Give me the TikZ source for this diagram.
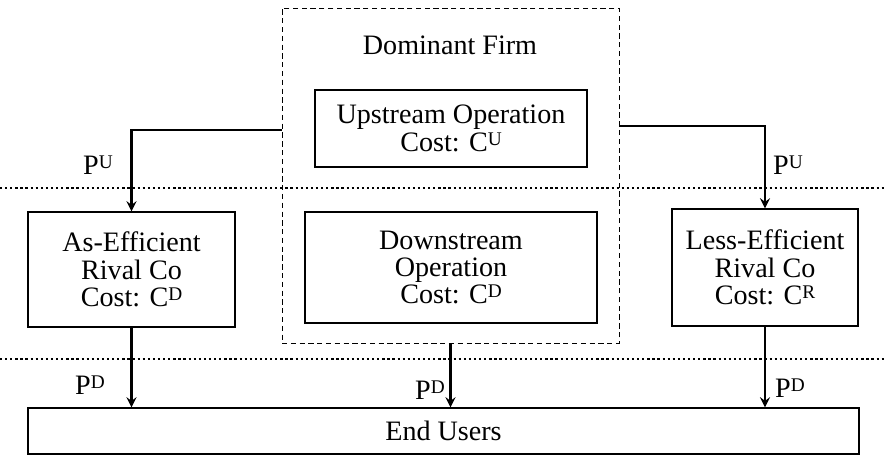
\documentclass[tikz,border=0pt]{standalone}
\usepackage{fontspec}
\setmainfont{Liberation Serif}
\newcommand{\capsup}[1]{\raisebox{0.22em}{\fontsize{11}{11}\selectfont #1}}

\begin{document}
\begin{tikzpicture}[
        box/.style={draw, thick, align=center, inner sep=0pt, font=\fontsize{16}{15.5}\selectfont},
        flow/.style={->, >=stealth, line width=1.5pt},
        tier/.style={line width=1.3pt, dash pattern=on 1.3pt off 1.6pt},
        lbl/.style={font=\fontsize{16}{16}\selectfont}
    ]
             \useasboundingbox (0,0) rectangle (17.68,9.1);
             \draw [tier] (0,5.34) -- (17.68,5.34);
             \draw [tier] (0,1.92) -- (17.68,1.92);
             \node (firm) [draw, densely dashed, minimum width=6.74cm, minimum height=6.7cm] at (9.01,5.59) {};
             \node (firmname) [lbl] at (9.0,8.2) {Dominant Firm};
             \node (up) [box, fill=white, minimum width=5.44cm, minimum height=1.54cm] at (9.02,6.53) {Upstream Operation\\Cost: C\capsup{U}};
             \node (down) [box, fill=white, minimum width=5.84cm, minimum height=2.22cm] at (9.02,3.75) {Downstream\\Operation\\Cost: C\capsup{D}};
             \node (aseff) [box, fill=white, minimum width=4.14cm, minimum height=2.3cm] at (2.63,3.71) {As-Efficient\\Rival Co\\Cost: C\capsup{D}};
             \node (lesseff) [box, fill=white, minimum width=3.72cm, minimum height=2.34cm] at (15.30,3.75) {Less-Efficient\\Rival Co\\Cost: C\capsup{R}};
             \node (users) [box, fill=white, minimum width=16.62cm, minimum height=0.92cm] at (8.87,0.48) {End Users};
             \draw [flow] (firm.west |- 0,6.5) -| (aseff.north);
             \draw [flow] (firm.east |- 0,6.58) -| (lesseff.north);
             \draw [flow] (aseff.south) -- (aseff.south |- users.north);
             \draw [flow] (firm.south) -- (firm.south |- users.north);
             \draw [flow] (lesseff.south) -- (lesseff.south |- users.north);
             \node (pul) [lbl] at (1.96,5.8) {P\capsup{U}};
             \node (pur) [lbl] at (15.76,5.8) {P\capsup{U}};
             \node (pdl) [lbl] at (1.8,1.4) {P\capsup{D}};
             \node (pdm) [lbl] at (8.6,1.3) {P\capsup{D}};
             \node (pdr) [lbl] at (15.8,1.34) {P\capsup{D}};
        \end{tikzpicture}
\end{document}
